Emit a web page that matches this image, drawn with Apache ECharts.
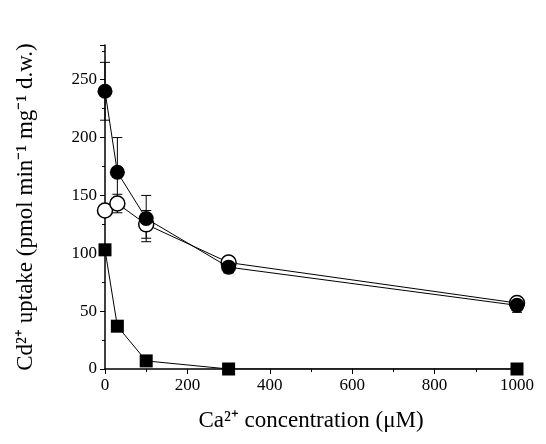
<!DOCTYPE html>
<html><head><meta charset="utf-8">
<script src="https://cdn.jsdelivr.net/npm/echarts@6/dist/echarts.min.js"></script>
<style>html,body{margin:0;background:#fff}#main{width:546px;height:444px}</style>
</head><body><div id="main"></div>
<script>
var chart = echarts.init(document.getElementById('main'));
var ca = [0, 30, 100, 300, 1000];
var filledCircle = [240, 170, 130, 88, 55];
var filledErr = [25, 30, 20, 5, 6];
var openCircle = [137, 143, 125, 92, 57];
var openErr = [4, 8, 12, 5, 5];
var square = [103, 37, 7, 0, 0];
var squareErr = [3, 3, 2, 1, 1];

function pairs(ys) { return ca.map(function (x, i) { return [x, ys[i]]; }); }
function errData(ys, es) { return ca.map(function (x, i) { return [x, ys[i] - es[i], ys[i] + es[i]]; }); }
function errSeries(ys, es) {
  return {
    type: 'custom', z: 1,
    renderItem: function (p, api) {
      var lo = api.coord([api.value(0), api.value(1)]);
      var hi = api.coord([api.value(0), api.value(2)]);
      var s = { stroke: '#000', lineWidth: 1 };
      return { type: 'group', children: [
        { type: 'line', shape: { x1: lo[0], y1: lo[1], x2: hi[0], y2: hi[1] }, style: s },
        { type: 'line', shape: { x1: lo[0] - 5, y1: lo[1], x2: lo[0] + 5, y2: lo[1] }, style: s },
        { type: 'line', shape: { x1: hi[0] - 5, y1: hi[1], x2: hi[0] + 5, y2: hi[1] }, style: s }
      ] };
    },
    data: errData(ys, es)
  };
}
var font = 'Liberation Serif';
chart.setOption({
  animation: false,
  grid: { left: 105, right: 29, top: 45, bottom: 75 },
  xAxis: {
    type: 'value', min: 0, max: 1000, interval: 200,
    name: 'Ca²⁺ concentration (μM)', nameLocation: 'middle', nameGap: 40,
    nameTextStyle: { fontFamily: font, fontSize: 23, color: '#000' },
    axisLine: { lineStyle: { color: '#000', width: 1.5 } },
    axisTick: { lineStyle: { color: '#000' }, length: 5 },
    minorTick: { show: true, splitNumber: 2, lineStyle: { color: '#000' }, length: 3 },
    axisLabel: { fontFamily: font, fontSize: 17, color: '#000', formatter: function (v) { return String(v); } },
    splitLine: { show: false }
  },
  yAxis: {
    type: 'value', min: 0, max: 280, interval: 50,
    name: 'Cd²⁺ uptake (pmol min⁻¹ mg⁻¹ d.w.)', nameLocation: 'middle', nameGap: 68,
    nameTextStyle: { fontFamily: font, fontSize: 23, color: '#000' },
    axisLine: { lineStyle: { color: '#000', width: 1.5 } },
    axisTick: { lineStyle: { color: '#000' }, length: 5 },
    minorTick: { show: true, splitNumber: 2, lineStyle: { color: '#000' }, length: 3 },
    axisLabel: { fontFamily: font, fontSize: 17, color: '#000', formatter: function (v) { return v > 250 ? '' : String(v); } },
    splitLine: { show: false }
  },
  series: [
    errSeries(filledCircle, filledErr),
    errSeries(openCircle, openErr),
    errSeries(square, squareErr),
    { type: 'line', data: pairs(openCircle), symbol: 'circle', symbolSize: 15, z: 3,
      lineStyle: { color: '#000', width: 1 }, itemStyle: { color: '#fff', borderColor: '#000', borderWidth: 1.5 } },
    { type: 'line', data: pairs(filledCircle), symbol: 'circle', symbolSize: 15, z: 4,
      lineStyle: { color: '#000', width: 1 }, itemStyle: { color: '#000' } },
    { type: 'line', data: pairs(square), symbol: 'rect', symbolSize: 13, z: 4,
      lineStyle: { color: '#000', width: 1 }, itemStyle: { color: '#000' } }
  ]
});
</script></body></html>
